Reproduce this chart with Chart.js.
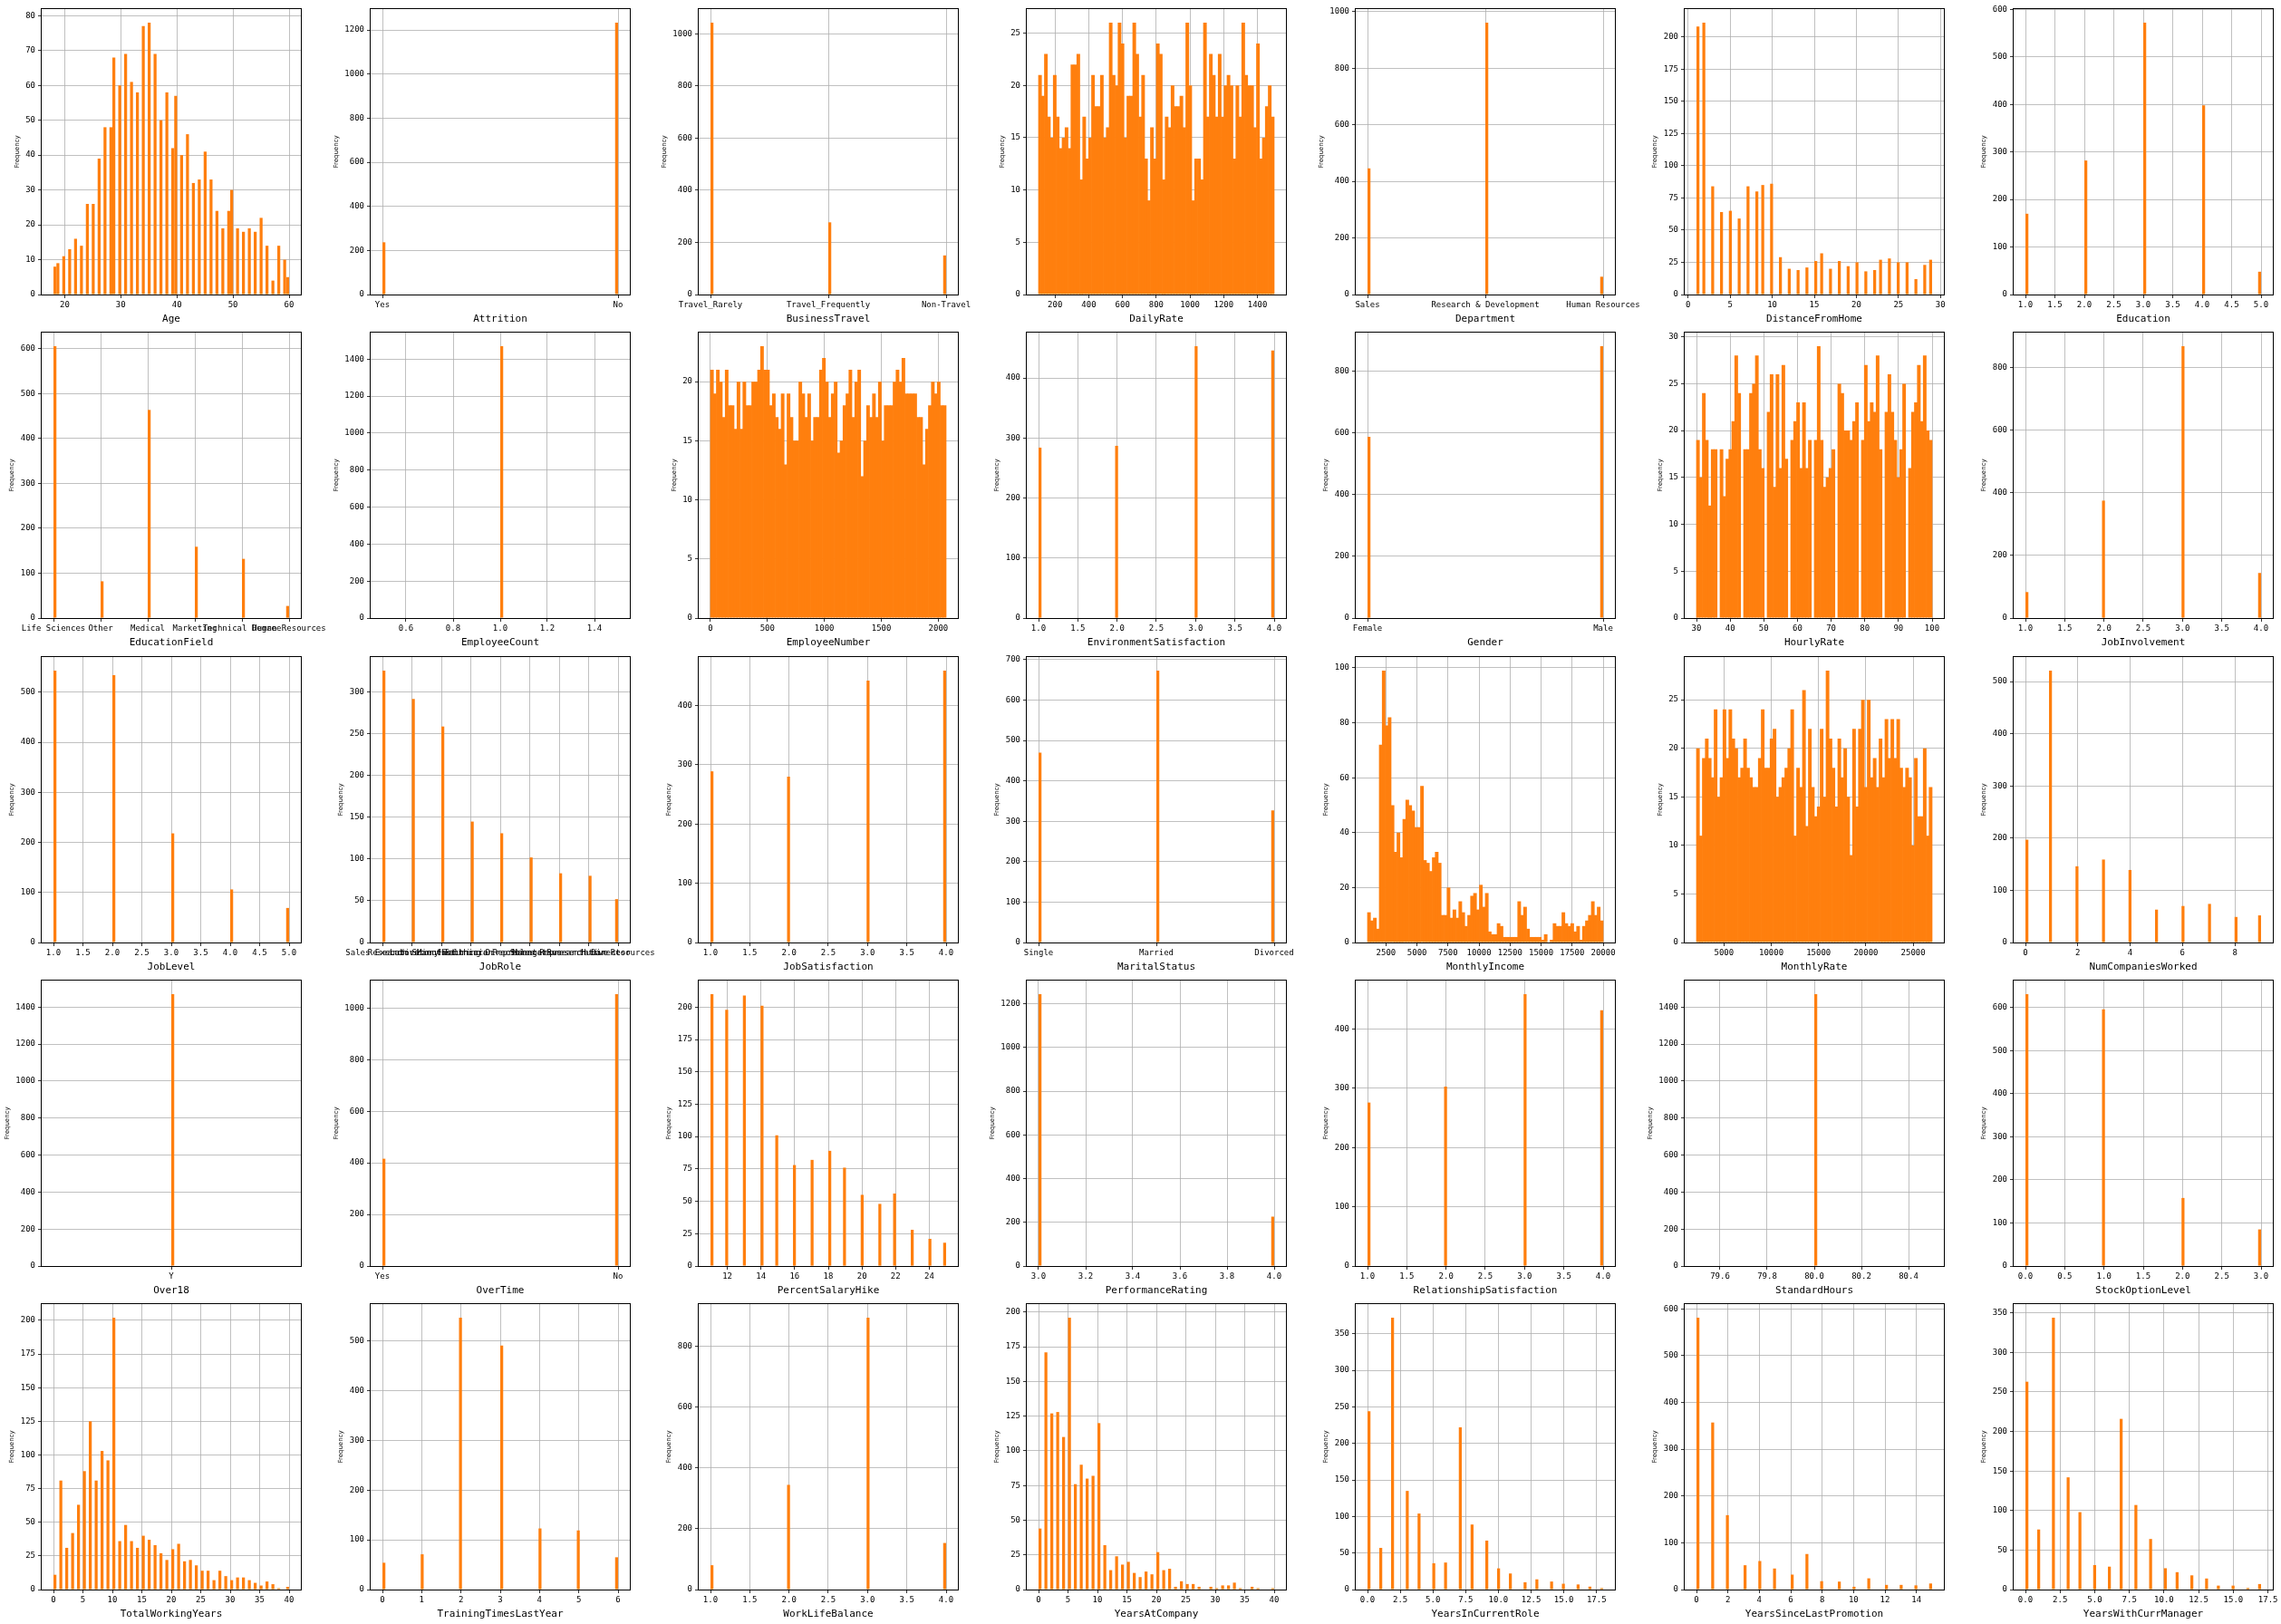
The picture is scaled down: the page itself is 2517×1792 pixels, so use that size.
<!DOCTYPE html>
<html>
<head>
<meta charset="utf-8">
<script src="https://cdn.jsdelivr.net/npm/chart.js@4/dist/chart.umd.min.js"></script>
<style>
  body { margin: 0; background: #fff; width: 2517px; height: 1792px; position: relative; overflow: hidden; }
  canvas { position: absolute; }
</style>
</head>
<body>
<script>
// ---- data: IBM HR attrition columns, 80-bin histograms ----
const NBINS = 80;

const ageValues = [18,19,20,21,22,23,24,25,26,27,28,29,30,31,32,33,34,35,36,37,38,39,40,41,42,43,44,45,46,47,48,49,50,51,52,53,54,55,56,57,58,59,60];
const ageCounts = [8,9,11,13,16,14,26,26,39,48,48,68,60,69,61,58,77,78,69,50,58,42,57,40,46,32,33,41,33,24,19,24,30,19,18,19,18,22,14,4,14,10,5];
const ageXTicks = ['20','30','40','50','60'];
const ageYTicks = [0,10,20,30,40,50,60,70,80];

const attritionCats = ['Yes','No'];
const attritionCounts = [237,1233];
const attritionYTicks = [0,200,400,600,800,1000,1200];

const travelCats = ['Travel_Rarely','Travel_Frequently','Non-Travel'];
const travelCounts = [1043,277,150];
const travelYTicks = [0,200,400,600,800,1000];

const dailyRateRange = [102,1499];
const dailyRateBins = [21,19,23,17,15,21,17,14,15,16, 14,22,22,23,11,17,13,15,21,18, 18,21,15,16,26,21,20,26,24,15,
  19,19,26,23,17,21,13,9,16,13, 24,23,11,17,16,20,18,18,19,16, 26,20,9,13,13,11,26,17,23,21,
  17,23,17,20,21,20,13,20,17,26, 21,20,20,16,24,13,15,18,20,17];
const dailyRateXTicks = ['200','400','600','800','1000','1200','1400'];
const dailyRateYTicks = [0,5,10,15,20,25];

const deptCats = ['Sales','Research & Development','Human Resources'];
const deptCounts = [446,961,63];
const deptYTicks = [0,200,400,600,800,1000];

const distValues = [1,2,3,4,5,6,7,8,9,10,11,12,13,14,15,16,17,18,19,20,21,22,23,24,25,26,27,28,29];
const distCounts = [208,211,84,64,65,59,84,80,85,86,29,20,19,21,26,32,20,26,22,25,18,19,27,28,25,25,12,23,27];
const distXTicks = ['0','5','10','15','20','25','30'];
const distYTicks = [0,25,50,75,100,125,150,175,200];

const eduValues = [1,2,3,4,5];
const eduCounts = [170,282,572,398,48];
const eduXTicks = ['1.0','1.5','2.0','2.5','3.0','3.5','4.0','4.5','5.0'];
const eduYTicks = [0,100,200,300,400,500,600];

const fieldCats = ['Life Sciences','Other','Medical','Marketing','Technical Degree','Human Resources'];
const fieldCounts = [606,82,464,159,132,27];
const fieldYTicks = [0,100,200,300,400,500,600];

const empCountValues = [1];
const empCountCounts = [1470];
const empCountXTicks = ['0.6','0.8','1.0','1.2','1.4'];
const empCountYTicks = [0,200,400,600,800,1000,1200,1400];

const empNumRange = [1,2068];
const empNumBins = [21,19,21,20,17,21,18,18,16,20, 16,20,18,18,20,20,21,23,21,21, 18,19,17,16,19,13,19,17,15,15,
  20,19,17,19,15,17,17,21,22,20, 17,19,20,14,15,18,19,21,17,20, 21,12,15,18,17,19,17,20,15,18,
  18,18,20,21,20,22,19,19,19,19, 17,17,13,16,18,20,19,20,18,18];
const empNumXTicks = ['0','500','1000','1500','2000'];
const empNumYTicks = [0,5,10,15,20];

const envValues = [1,2,3,4];
const envCounts = [284,287,453,446];
const quarterXTicks = ['1.0','1.5','2.0','2.5','3.0','3.5','4.0'];
const envYTicks = [0,100,200,300,400];

const genderCats = ['Female','Male'];
const genderCounts = [588,882];
const genderYTicks = [0,200,400,600,800];

const hourlyValues = [30,31,32,33,34,35,36,37,38,39,40,41,42,43,44,45,46,47,48,49,50,51,52,53,54,55,56,57,58,59,60,
  61,62,63,64,65,66,67,68,69,70,71,72,73,74,75,76,77,78,79,80,81,82,83,84,85,86,87,88,89,90,91,92,93,94,95,96,97,98,99,100];
const hourlyCounts = [19,15,24,19,12,18,18,18,13,17, 18,21,28,24,18,18,24,25,28,18, 16,22,26,14,26,16,27,17,19,21,
  23,16,23,16,19,19,29,19,14,15, 16,18,25,24,20,20,19,21,23,19, 27,21,23,22,28,18,22,26,22,19,
  15,18,25,16,22,23,27,21,28,20, 19];
const hourlyXTicks = ['30','40','50','60','70','80','90','100'];
const hourlyYTicks = [0,5,10,15,20,25,30];

const involveValues = [1,2,3,4];
const involveCounts = [83,375,868,144];
const involveYTicks = [0,200,400,600,800];

const levelValues = [1,2,3,4,5];
const levelCounts = [543,534,218,106,69];
const levelYTicks = [0,100,200,300,400,500];

const roleCats = ['Sales Executive','Research Scientist','Laboratory Technician','Manufacturing Director',
  'Healthcare Representative','Manager','Sales Representative','Research Director','Human Resources'];
const roleCounts = [326,292,259,145,131,102,83,80,52];
const roleYTicks = [0,50,100,150,200,250,300];

const jobSatValues = [1,2,3,4];
const jobSatCounts = [289,280,442,459];
const jobSatYTicks = [0,100,200,300,400];

const maritalCats = ['Single','Married','Divorced'];
const maritalCounts = [470,673,327];
const maritalYTicks = [0,100,200,300,400,500,600,700];

const incomeRange = [1009,19999];
const incomeBins = [11,8,9,5,72,99,79,82,50,33, 40,31,45,52,50,48,42,42,57,30, 29,26,31,33,29,10,10,20,9,12,
  9,15,11,6,10,17,18,12,21,13, 18,4,3,3,7,6,2,2,2,2, 2,15,10,13,5,2,2,2,2,1,
  3,0,1,7,6,6,11,7,6,7, 4,6,1,6,8,10,15,10,13,8];
const incomeXTicks = ['2500','5000','7500','10000','12500','15000','17500','20000'];
const incomeYTicks = [0,20,40,60,80,100];

const rateRange = [2094,26999];
const rateBins = [20,11,19,21,19,17,24,15,17,24, 19,24,21,20,17,18,21,18,17,16, 16,19,24,18,18,21,22,15,16,17,
  18,20,24,11,18,16,26,12,22,16, 13,14,22,15,28,21,18,14,21,17, 20,15,9,22,14,22,25,16,25,17,
  19,16,21,17,23,19,23,19,23,18, 16,18,17,10,19,13,13,20,11,16];
const rateXTicks = ['5000','10000','15000','20000','25000'];
const rateYTicks = [0,5,10,15,20,25];

const numCompValues = [0,1,2,3,4,5,6,7,8,9];
const numCompCounts = [197,521,146,159,139,63,70,74,49,52];
const numCompXTicks = ['0','2','4','6','8'];
const numCompYTicks = [0,100,200,300,400,500];

const over18Cats = ['Y'];
const over18Counts = [1470];
const over18YTicks = [0,200,400,600,800,1000,1200,1400];

const overTimeCats = ['Yes','No'];
const overTimeCounts = [416,1054];
const overTimeYTicks = [0,200,400,600,800,1000];

const hikeValues = [11,12,13,14,15,16,17,18,19,20,21,22,23,24,25];
const hikeCounts = [210,198,209,201,101,78,82,89,76,55,48,56,28,21,18];
const hikeXTicks = ['12','14','16','18','20','22','24'];
const hikeYTicks = [0,25,50,75,100,125,150,175,200];

const perfValues = [3,4];
const perfCounts = [1244,226];
const perfXTicks = ['3.0','3.2','3.4','3.6','3.8','4.0'];
const perfYTicks = [0,200,400,600,800,1000,1200];

const relValues = [1,2,3,4];
const relCounts = [276,303,459,432];
const relYTicks = [0,100,200,300,400];

const hoursValues = [80];
const hoursCounts = [1470];
const hoursXTicks = ['79.6','79.8','80.0','80.2','80.4'];
const hoursYTicks = [0,200,400,600,800,1000,1200,1400];

const stockValues = [0,1,2,3];
const stockCounts = [631,596,158,85];
const stockXTicks = ['0.0','0.5','1.0','1.5','2.0','2.5','3.0'];
const stockYTicks = [0,100,200,300,400,500,600];

const workYearsValues = [0,1,2,3,4,5,6,7,8,9,10,11,12,13,14,15,16,17,18,19,20,21,22,23,24,25,26,27,28,29,30,31,32,33,34,35,36,37,38,40];
const workYearsCounts = [11,81,31,42,63,88,125,81,103,96,202,36,48,36,31,40,37,33,27,22,30,34,21,22,18,14,14,7,14,10,7,9,9,7,5,3,6,4,1,2];
const fortyXTicks = ['0','5','10','15','20','25','30','35','40'];
const workYearsYTicks = [0,25,50,75,100,125,150,175,200];

const trainValues = [0,1,2,3,4,5,6];
const trainCounts = [54,71,547,491,123,119,65];
const trainXTicks = ['0','1','2','3','4','5','6'];
const trainYTicks = [0,100,200,300,400,500];

const wlbValues = [1,2,3,4];
const wlbCounts = [80,344,893,153];
const wlbYTicks = [0,200,400,600,800];

const atCompanyValues = [0,1,2,3,4,5,6,7,8,9,10,11,12,13,14,15,16,17,18,19,20,21,22,23,24,25,26,27,29,30,31,32,33,34,36,37,40];
const atCompanyCounts = [44,171,127,128,110,196,76,90,80,82,120,32,14,24,18,20,12,9,13,11,27,14,15,2,6,4,4,2,2,1,3,3,5,1,2,1,1];
const atCompanyYTicks = [0,25,50,75,100,125,150,175,200];

const roleYearsValues = [0,1,2,3,4,5,6,7,8,9,10,11,12,13,14,15,16,17,18];
const roleYearsCounts = [244,57,372,135,104,36,37,222,89,67,29,22,10,14,11,8,7,4,2];
const quarterStepXTicks = ['0.0','2.5','5.0','7.5','10.0','12.5','15.0','17.5'];
const roleYearsYTicks = [0,50,100,150,200,250,300,350];

const promoValues = [0,1,2,3,4,5,6,7,8,9,10,11,12,13,14,15];
const promoCounts = [581,357,159,52,61,45,32,76,18,17,6,24,10,10,9,13];
const promoXTicks = ['0','2','4','6','8','10','12','14'];
const promoYTicks = [0,100,200,300,400,500,600];

const managerValues = [0,1,2,3,4,5,6,7,8,9,10,11,12,13,14,15,16,17];
const managerCounts = [263,76,344,142,98,31,29,216,107,64,27,22,18,14,5,5,2,7];
const managerYTicks = [0,50,100,150,200,250,300,350];

// ---- panels in reading order (5 rows x 7 columns) ----
const panels = [
  { name: 'Age', values: ageValues, counts: ageCounts, xTicks: ageXTicks, yTicks: ageYTicks },
  { name: 'Attrition', cats: attritionCats, counts: attritionCounts, yTicks: attritionYTicks },
  { name: 'BusinessTravel', cats: travelCats, counts: travelCounts, yTicks: travelYTicks },
  { name: 'DailyRate', bins: dailyRateBins, range: dailyRateRange, xTicks: dailyRateXTicks, yTicks: dailyRateYTicks },
  { name: 'Department', cats: deptCats, counts: deptCounts, yTicks: deptYTicks },
  { name: 'DistanceFromHome', values: distValues, counts: distCounts, xTicks: distXTicks, yTicks: distYTicks },
  { name: 'Education', values: eduValues, counts: eduCounts, xTicks: eduXTicks, yTicks: eduYTicks },

  { name: 'EducationField', cats: fieldCats, counts: fieldCounts, yTicks: fieldYTicks },
  { name: 'EmployeeCount', values: empCountValues, counts: empCountCounts, xTicks: empCountXTicks, yTicks: empCountYTicks },
  { name: 'EmployeeNumber', bins: empNumBins, range: empNumRange, xTicks: empNumXTicks, yTicks: empNumYTicks },
  { name: 'EnvironmentSatisfaction', values: envValues, counts: envCounts, xTicks: quarterXTicks, yTicks: envYTicks },
  { name: 'Gender', cats: genderCats, counts: genderCounts, yTicks: genderYTicks },
  { name: 'HourlyRate', values: hourlyValues, counts: hourlyCounts, xTicks: hourlyXTicks, yTicks: hourlyYTicks, solid: true },
  { name: 'JobInvolvement', values: involveValues, counts: involveCounts, xTicks: quarterXTicks, yTicks: involveYTicks },

  { name: 'JobLevel', values: levelValues, counts: levelCounts, xTicks: eduXTicks, yTicks: levelYTicks },
  { name: 'JobRole', cats: roleCats, counts: roleCounts, yTicks: roleYTicks },
  { name: 'JobSatisfaction', values: jobSatValues, counts: jobSatCounts, xTicks: quarterXTicks, yTicks: jobSatYTicks },
  { name: 'MaritalStatus', cats: maritalCats, counts: maritalCounts, yTicks: maritalYTicks },
  { name: 'MonthlyIncome', bins: incomeBins, range: incomeRange, xTicks: incomeXTicks, yTicks: incomeYTicks },
  { name: 'MonthlyRate', bins: rateBins, range: rateRange, xTicks: rateXTicks, yTicks: rateYTicks },
  { name: 'NumCompaniesWorked', values: numCompValues, counts: numCompCounts, xTicks: numCompXTicks, yTicks: numCompYTicks },

  { name: 'Over18', cats: over18Cats, counts: over18Counts, yTicks: over18YTicks },
  { name: 'OverTime', cats: overTimeCats, counts: overTimeCounts, yTicks: overTimeYTicks },
  { name: 'PercentSalaryHike', values: hikeValues, counts: hikeCounts, xTicks: hikeXTicks, yTicks: hikeYTicks },
  { name: 'PerformanceRating', values: perfValues, counts: perfCounts, xTicks: perfXTicks, yTicks: perfYTicks },
  { name: 'RelationshipSatisfaction', values: relValues, counts: relCounts, xTicks: quarterXTicks, yTicks: relYTicks },
  { name: 'StandardHours', values: hoursValues, counts: hoursCounts, xTicks: hoursXTicks, yTicks: hoursYTicks },
  { name: 'StockOptionLevel', values: stockValues, counts: stockCounts, xTicks: stockXTicks, yTicks: stockYTicks },

  { name: 'TotalWorkingYears', values: workYearsValues, counts: workYearsCounts, xTicks: fortyXTicks, yTicks: workYearsYTicks },
  { name: 'TrainingTimesLastYear', values: trainValues, counts: trainCounts, xTicks: trainXTicks, yTicks: trainYTicks },
  { name: 'WorkLifeBalance', values: wlbValues, counts: wlbCounts, xTicks: quarterXTicks, yTicks: wlbYTicks },
  { name: 'YearsAtCompany', values: atCompanyValues, counts: atCompanyCounts, xTicks: fortyXTicks, yTicks: atCompanyYTicks },
  { name: 'YearsInCurrentRole', values: roleYearsValues, counts: roleYearsCounts, xTicks: quarterStepXTicks, yTicks: roleYearsYTicks },
  { name: 'YearsSinceLastPromotion', values: promoValues, counts: promoCounts, xTicks: promoXTicks, yTicks: promoYTicks },
  { name: 'YearsWithCurrManager', values: managerValues, counts: managerCounts, xTicks: quarterStepXTicks, yTicks: managerYTicks }
];

// ---- layout of the axes grid (page pixels) ----
const colLeft = [46, 409, 771, 1133, 1496, 1859, 2222];
const rowTop = [10, 367, 725, 1082, 1439];
const AW = 286, AH = 315;
const CW = AW + 130, CH = AH + 60, TOP = 8;
const MONO = '"DejaVu Sans Mono", monospace';
const ORANGE = '#ff7f0e';

// black frame round the plot area (the four spines)
const framePlugin = {
  id: 'frame',
  afterDraw(chart) {
    const { ctx, chartArea: a } = chart;
    const l = Math.round(a.left) - 0.5, t = Math.round(a.top) - 0.5;
    const r = Math.round(a.right) + 0.5, b = Math.round(a.bottom) + 0.5;
    ctx.save();
    ctx.strokeStyle = '#000';
    ctx.lineWidth = 1;
    ctx.strokeRect(l, t, r - l, b - t);
    ctx.restore();
  }
};

// histogram binning like numpy: 80 equal bins between min and max
function binPanel(p) {
  let lo, hi, pts;
  if (p.bins) {
    [lo, hi] = p.range;
    const w = (hi - lo) / NBINS;
    pts = p.bins.map((c, i) => ({ x: lo + (i + 0.5) * w, y: c }));
    return { lo, hi, w, pts };
  }
  const xs = p.cats ? p.cats.map((_, i) => i) : p.values;
  lo = Math.min(...xs); hi = Math.max(...xs);
  if (lo === hi) { lo -= 0.5; hi += 0.5; }
  const w = (hi - lo) / NBINS;
  pts = xs.map((v, i) => {
    const k = Math.min(Math.floor((v - lo) / w + 1e-9), NBINS - 1);
    return { x: lo + (k + 0.5) * w, y: p.counts[i] };
  });
  return { lo, hi, w, pts };
}

panels.forEach((p, idx) => {
  const row = Math.floor(idx / 7), col = idx % 7;
  const { lo, hi, w, pts } = binPanel(p);
  const span = hi - lo;
  const xMin = lo - 0.05 * span, xMax = hi + 0.05 * span;
  const counts = p.bins || p.counts;
  const yMax = Math.max(...counts) * 1.05;

  const xVals = p.cats ? p.cats.map((_, i) => i) : p.xTicks.map(parseFloat);
  const xLabels = p.cats ? p.cats : p.xTicks;
  const yVals = p.yTicks;

  // adjacent bins overlap a little so no seams show between them
  let thick = Math.max(w * AW / (xMax - xMin), 0.8);
  if (p.bins || p.solid) thick += 0.7;

  const canvas = document.createElement('canvas');
  canvas.width = CW; canvas.height = CH;
  canvas.style.top = (rowTop[row] - TOP) + 'px';
  canvas.style.left = (colLeft[col] - 45) + 'px';
  document.body.appendChild(canvas);

  const gridOpts = { color: '#b0b0b0', lineWidth: 0.8, offset: false, tickColor: '#000', tickLength: 4, tickWidth: 0.8 };

  const chart = new Chart(canvas, {
    type: 'bar',
    data: {
      datasets: [{
        data: pts,
        backgroundColor: ORANGE,
        borderWidth: 0,
        inflateAmount: 0,
        barThickness: thick
      }]
    },
    options: {
      responsive: false,
      animation: false,
      devicePixelRatio: 1,
      layout: { padding: { left: 0, top: TOP, right: 60, bottom: 10 } },
      plugins: { legend: { display: false }, tooltip: { enabled: false } },
      scales: {
        x: {
          type: 'linear', min: xMin, max: xMax, offset: false, z: 1,
          grid: gridOpts,
          border: { display: false },
          afterBuildTicks: s => { s.ticks = xVals.map(v => ({ value: v })); },
          afterFit: s => { s.paddingLeft = 0; s.paddingRight = 0; },
          ticks: {
            autoSkip: false, maxRotation: 0, minRotation: 0, padding: 2, color: '#000',
            font: { family: MONO, size: 9 },
            callback: (v, i) => xLabels[i]
          },
          title: { display: true, text: p.name, color: '#000', font: { family: MONO, size: 11 }, padding: { top: 2, bottom: 0 } }
        },
        y: {
          type: 'linear', min: 0, max: yMax, z: 1,
          grid: gridOpts,
          border: { display: false },
          afterBuildTicks: s => { s.ticks = yVals.map(v => ({ value: v })); },
          afterFit: s => { s.paddingTop = 0; s.paddingBottom = 0; },
          ticks: {
            autoSkip: false, padding: 3, color: '#000',
            font: { family: MONO, size: 9 },
            callback: (v, i) => String(yVals[i])
          },
          title: { display: true, text: 'Frequency', color: '#000', font: { family: '"DejaVu Sans", sans-serif', size: 7 }, padding: { top: 0, bottom: 2 } }
        }
      }
    },
    plugins: [framePlugin]
  });

  // pin the plot area to the reference axes box
  const ys = chart.scales.y, xs = chart.scales.x;
  const yw = Math.round(ys.width);
  chart.config.options.layout.padding = {
    left: yw - ys.width, top: TOP,
    right: CW - yw - AW,
    bottom: CH - TOP - AH - xs.height
  };
  chart.update('none');
  canvas.style.left = (colLeft[col] - yw) + 'px';
});
</script>
</body>
</html>
